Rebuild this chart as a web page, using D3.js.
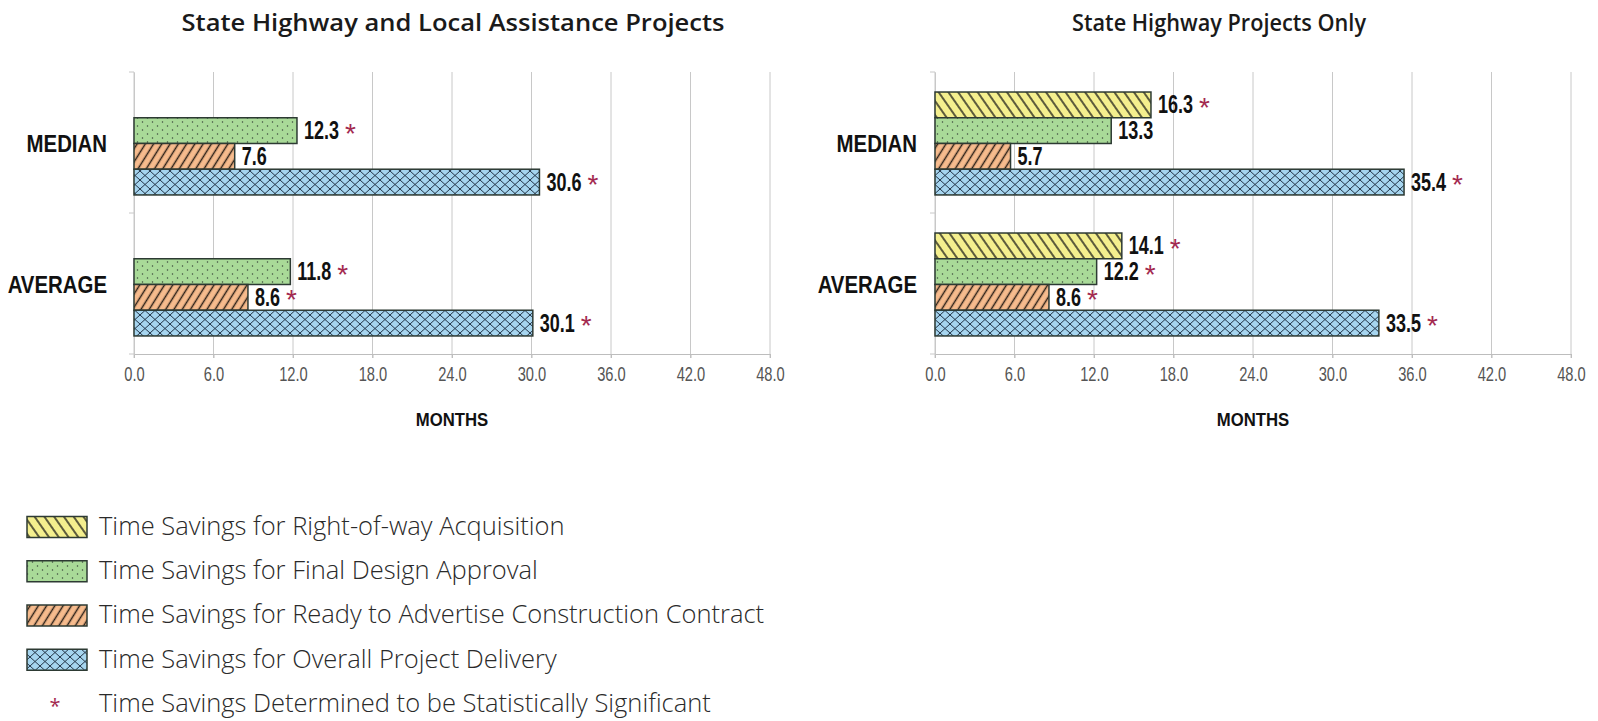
<!DOCTYPE html>
<html>
<head>
<meta charset="utf-8">
<script src="https://cdn.jsdelivr.net/npm/d3@7"></script>
<style>
  html, body { margin: 0; padding: 0; background: #fff; }
  svg { display: block; }
</style>
</head>
<body>
<svg id="chart" width="1598" height="721"></svg>
<script>
// ---------- DATA ----------
const categories = ["MEDIAN", "AVERAGE"];
const seriesNames = [
  "Time Savings for Right-of-way Acquisition",
  "Time Savings for Final Design Approval",
  "Time Savings for Ready to Advertise Construction Contract",
  "Time Savings for Overall Project Delivery"
];
const sigLabel = "Time Savings Determined to be Statistically Significant";
const xTicks = [0, 6, 12, 18, 24, 30, 36, 42, 48];
const xAxisTitle = "MONTHS";

const leftTitle = "State Highway and Local Assistance Projects";
const leftRightOfWay = [null, null];
const leftFinalDesign = [12.3, 11.8];
const leftReadyToAdvertise = [7.6, 8.6];
const leftOverall = [30.6, 30.1];
const leftRightOfWaySig = [false, false];
const leftFinalDesignSig = [true, true];
const leftReadyToAdvertiseSig = [false, true];
const leftOverallSig = [true, true];

const rightTitle = "State Highway Projects Only";
const rightRightOfWay = [16.3, 14.1];
const rightFinalDesign = [13.3, 12.2];
const rightReadyToAdvertise = [5.7, 8.6];
const rightOverall = [35.4, 33.5];
const rightRightOfWaySig = [true, true];
const rightFinalDesignSig = [false, true];
const rightReadyToAdvertiseSig = [false, true];
const rightOverallSig = [true, true];

// ---------- STYLE ----------
const fills = ["#f4ef8e", "#a9da98", "#f6bb8d", "#a6d5ef"];
const patternIds = ["patYellow", "patGreen", "patOrange", "patBlue"];
const starColor = "#a3294f";
const arial = "'Liberation Sans', Arial, sans-serif";
const sans = "'Open Sans', 'Noto Sans', sans-serif";
const labelScale = 0.72;

const svg = d3.select("#chart");
const defs = svg.append("defs");

// yellow: backslash hatch
{
  const p = defs.append("pattern").attr("id", "patYellow").attr("patternUnits", "userSpaceOnUse")
    .attr("width", 8).attr("height", 8).attr("patternTransform", "rotate(-35)");
  p.append("rect").attr("width", 8).attr("height", 8).attr("fill", fills[0]);
  p.append("line").attr("x1", 4).attr("x2", 4).attr("y1", 0).attr("y2", 8)
    .attr("stroke", "#2a2a20").attr("stroke-width", 1.5);
}
// green: dots
{
  const p = defs.append("pattern").attr("id", "patGreen").attr("patternUnits", "userSpaceOnUse")
    .attr("width", 10).attr("height", 8);
  p.append("rect").attr("width", 10).attr("height", 8).attr("fill", fills[1]);
  p.append("circle").attr("cx", 2.5).attr("cy", 2).attr("r", 0.75).attr("fill", "#3b4a3b");
  p.append("circle").attr("cx", 7.5).attr("cy", 6).attr("r", 0.75).attr("fill", "#3b4a3b");
}
// orange: forward slash hatch
{
  const p = defs.append("pattern").attr("id", "patOrange").attr("patternUnits", "userSpaceOnUse")
    .attr("width", 7).attr("height", 7).attr("patternTransform", "rotate(32)");
  p.append("rect").attr("width", 7).attr("height", 7).attr("fill", fills[2]);
  p.append("line").attr("x1", 3.5).attr("x2", 3.5).attr("y1", 0).attr("y2", 7)
    .attr("stroke", "#2b2018").attr("stroke-width", 1.5);
}
// blue: crosshatch
{
  const p = defs.append("pattern").attr("id", "patBlue").attr("patternUnits", "userSpaceOnUse")
    .attr("width", 10).attr("height", 9);
  p.append("rect").attr("width", 10).attr("height", 9).attr("fill", fills[3]);
  p.append("path").attr("d", "M0,0 L10,9 M10,0 L0,9")
    .attr("stroke", "#24364a").attr("stroke-width", 1).attr("fill", "none");
}

function drawPanel(cfg) {
  const g = svg.append("g");
  const x = d3.scaleLinear().domain([0, 48]).range([cfg.x0, cfg.x1]);
  const y = d3.scaleBand().domain(categories).range([72, 354]).paddingInner(0).paddingOuter(0);
  const bw = y.bandwidth();
  const ys = d3.scaleBand().domain(seriesNames).range([bw * 0.142, bw * 0.872]).padding(0);

  // title
  g.append("text").attr("x", cfg.titleX).attr("y", 31).attr("text-anchor", "middle")
    .attr("font-family", sans).attr("font-weight", 600).attr("font-size", 23).attr("fill", "#1a1a1a")
    .attr("textLength", cfg.titleW).attr("lengthAdjust", "spacingAndGlyphs")
    .text(cfg.title);

  // grid lines
  g.append("g").selectAll("line").data(xTicks).join("line")
    .attr("x1", d => x(d)).attr("x2", d => x(d)).attr("y1", 72).attr("y2", 358)
    .attr("stroke", "#c8c8c8").attr("stroke-width", 1);

  // x axis
  const xa = g.append("g").attr("transform", "translate(0,354)")
    .call(d3.axisBottom(x).tickValues(xTicks).tickFormat(d3.format(".1f")).tickSize(4).tickPadding(8));
  xa.select(".domain").attr("stroke", "#bdbdbd");
  xa.selectAll(".tick line").attr("stroke", "#bdbdbd");
  xa.selectAll("text").attr("font-family", arial).attr("font-size", 21).attr("fill", "#555")
    .attr("transform", "scale(0.7,1)");

  // y axis
  const ya = g.append("g").attr("transform", `translate(${cfg.x0},0)`)
    .call(d3.axisLeft(y).tickSize(0).tickFormat(""));
  ya.select(".domain").attr("stroke", "#c8c8c8");
  g.append("g").selectAll("line").data([72, 213, 354]).join("line")
    .attr("x1", cfg.x0 - 5).attr("x2", cfg.x0).attr("y1", d => d).attr("y2", d => d)
    .attr("stroke", "#c8c8c8");

  // category labels
  g.append("g").selectAll("text").data(categories).join("text")
    .attr("transform", d => `translate(${cfg.x0 - cfg.labelGap},${y(d) + bw * 0.52}) scale(0.85,1)`)
    .attr("text-anchor", "end").attr("dominant-baseline", "middle")
    .attr("font-family", arial).attr("font-weight", 700).attr("font-size", 24).attr("fill", "#111")
    .text(d => d);

  // bars
  const rows = [];
  categories.forEach((c, ci) => {
    cfg.series.forEach((s, si) => {
      if (s.values[ci] != null) rows.push({ c, name: seriesNames[si], si, v: s.values[ci], sig: s.sig[ci] });
    });
  });

  g.append("g").selectAll("rect").data(rows).join("rect")
    .attr("x", x(0)).attr("y", d => y(d.c) + ys(d.name))
    .attr("width", d => x(d.v) - x(0)).attr("height", ys.bandwidth())
    .attr("fill", d => `url(#${patternIds[d.si]})`)
    .attr("stroke", "#2d3a33").attr("stroke-width", 1.5);

  const cy = d => y(d.c) + ys(d.name) + ys.bandwidth() / 2;
  const lab = g.append("g").selectAll("text").data(rows).join("text")
    .attr("transform", d => `translate(${x(d.v) + 7},${cy(d) + 2}) scale(${labelScale},1)`)
    .attr("dominant-baseline", "middle")
    .attr("font-family", arial).attr("font-weight", 700).attr("font-size", 25).attr("fill", "#111")
    .text(d => d.v.toFixed(1));
  lab.each(function (d) { d.w = this.getComputedTextLength() * labelScale; });

  g.append("g").selectAll("text").data(rows.filter(d => d.sig)).join("text")
    .attr("x", d => x(d.v) + 7 + d.w + 6).attr("y", d => cy(d) + 12)
    .attr("font-family", arial).attr("font-size", 28).attr("fill", starColor)
    .text("*");

  // axis title
  g.append("text")
    .attr("transform", `translate(${(cfg.x0 + cfg.x1) / 2},426) scale(0.88,1)`)
    .attr("text-anchor", "middle")
    .attr("font-family", arial).attr("font-weight", 700).attr("font-size", 19).attr("fill", "#111")
    .text(xAxisTitle);
}

drawPanel({
  title: leftTitle, titleX: 453, titleW: 543, x0: 134, x1: 770, labelGap: 27,
  series: [
    { values: leftRightOfWay, sig: leftRightOfWaySig },
    { values: leftFinalDesign, sig: leftFinalDesignSig },
    { values: leftReadyToAdvertise, sig: leftReadyToAdvertiseSig },
    { values: leftOverall, sig: leftOverallSig }
  ]
});
drawPanel({
  title: rightTitle, titleX: 1219, titleW: 294, x0: 935, x1: 1571, labelGap: 18,
  series: [
    { values: rightRightOfWay, sig: rightRightOfWaySig },
    { values: rightFinalDesign, sig: rightFinalDesignSig },
    { values: rightReadyToAdvertise, sig: rightReadyToAdvertiseSig },
    { values: rightOverall, sig: rightOverallSig }
  ]
});

// ---------- LEGEND ----------
const legendY = d3.scalePoint().domain([...seriesNames, sigLabel]).range([527, 704]);
const lg = svg.append("g");
lg.selectAll("rect").data(seriesNames).join("rect")
  .attr("x", 27).attr("y", d => legendY(d) - 10.5).attr("width", 60).attr("height", 21)
  .attr("fill", (d, i) => `url(#${patternIds[i]})`)
  .attr("stroke", "#2d3a33").attr("stroke-width", 1.5);
lg.selectAll("text.lab").data([...seriesNames, sigLabel]).join("text").attr("class", "lab")
  .attr("x", 99).attr("y", d => legendY(d) + 1).attr("dominant-baseline", "middle")
  .attr("font-family", sans).attr("font-weight", 300).attr("font-size", 25.5).attr("fill", "#2a2a2a")
  .text(d => d);
lg.append("text").attr("x", 55).attr("y", legendY(sigLabel) + 9).attr("text-anchor", "middle")
  .attr("font-family", sans).attr("font-size", 20)
  .attr("fill", starColor).text("*");
</script>
</body>
</html>
